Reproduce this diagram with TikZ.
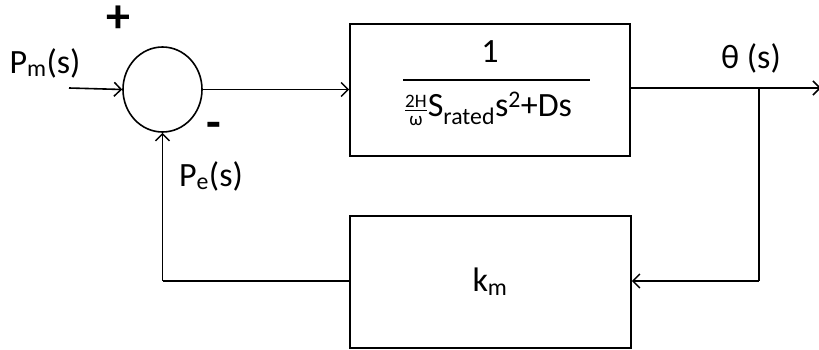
\documentclass[tikz,border=0pt]{standalone}
\usepackage{fontspec}
\setmainfont{Carlito}
\usetikzlibrary{shapes.geometric,arrows.meta}
\tikzset{
  conn/.style={line width=1.6pt,-{Straight Barb[length=7pt,width=14pt,line width=1.5pt]}},
  plain/.style={line width=1.6pt},
  blk/.style={draw,line width=1.6pt,rectangle,inner sep=0pt},
  lbl/.style={font=\fontsize{34}{40}\selectfont,inner sep=0pt},
  sgn/.style={font=\fontsize{48}{50}\selectfont\bfseries,inner sep=0pt,text height=0.62em,text depth=0pt}
}
\begin{document}
\begin{tikzpicture}[x=1pt,y=-1pt]
\useasboundingbox (0,0) rectangle (819,350);
\node[draw,ellipse,line width=1.6pt,minimum width=79pt,minimum height=85pt,inner sep=0pt] (sum) at (162.5,89.5) {};
\node[blk,minimum width=280pt,minimum height=132pt] (G) at (490,90) {};
\node[blk,minimum width=281pt,minimum height=132pt] (K) at (490.5,282) {};
\coordinate (in) at (69,88);
\coordinate (out) at (821,88);
\coordinate (br) at (759,88);
\coordinate (fbr) at (759,281);
\coordinate (fbl) at (162.5,281);
\draw[conn] (in) -- (sum.west);
\draw[conn] (sum.east) -- (G.west |- sum.east);
\draw[conn] (G.east |- out) -- (out);
\draw[plain] (br) -- (fbr);
\draw[conn] (fbr) -- (K.east |- fbr);
\draw[plain] (K.west |- fbl) -- (fbl);
\draw[conn] (fbl) -- (sum.south);
\draw[line width=1.6pt] (403,80) -- (590,80);
\node[lbl] (one) at (490,52) {1};
\node[lbl] (den) at (488,109) {$\frac{\mbox{\fontsize{19}{19}\selectfont 2H}}{\mbox{\fontsize{19}{19}\selectfont ω}}$S\textsubscript{rated}s\textsuperscript{2}+Ds};
\node[lbl] (k) at (490,282) {k\textsubscript{m}};
\node[lbl] (pm) at (45,63) {P\textsubscript{m}(s)};
\node[lbl] (pe) at (211,176) {P\textsubscript{e}(s)};
\node[lbl] (th) at (751,58) {θ (s)};
\node[sgn] (plus) at (118,29) {+};
\node[sgn] (minus) at (214,135) {-};
\end{tikzpicture}
\end{document}
